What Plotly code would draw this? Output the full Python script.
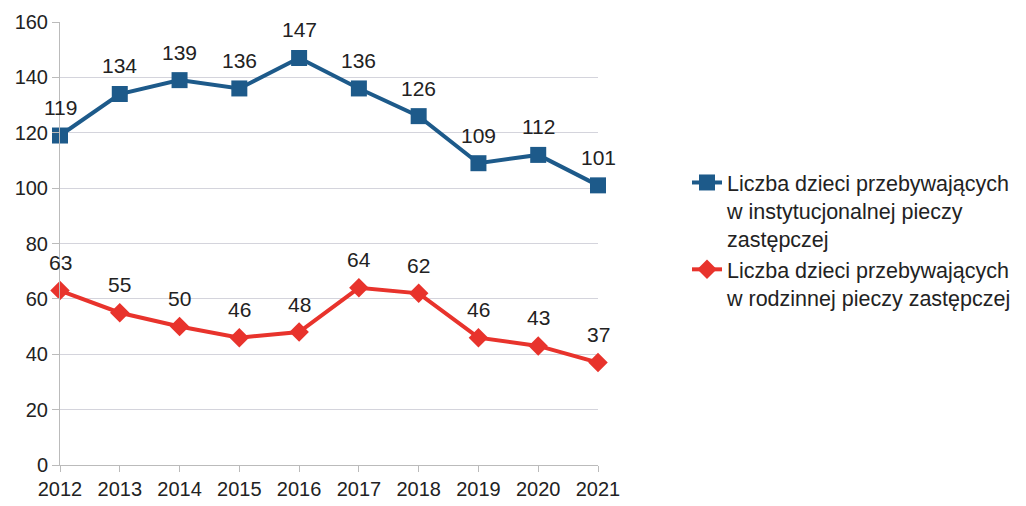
import plotly.graph_objects as go

years = [2012, 2013, 2014, 2015, 2016, 2017, 2018, 2019, 2020, 2021]
instytucjonalna = [119, 134, 139, 136, 147, 136, 126, 109, 112, 101]
rodzinna = [63, 55, 50, 46, 48, 64, 62, 46, 43, 37]
name_inst = "Liczba dzieci przebywających<br>w instytucjonalnej pieczy<br>zastępczej"
name_rodz = "Liczba dzieci przebywających<br>w rodzinnej pieczy zastępczej"

font = "Liberation Sans, Arial, sans-serif"
blue = "#1d5a8a"
red = "#e8332c"

fig = go.Figure()
fig.add_trace(go.Scatter(
    x=years, y=instytucjonalna, name=name_inst, mode="lines+markers",
    line=dict(color=blue, width=4),
    marker=dict(symbol="square", size=16, color=blue),
    cliponaxis=False,
))
fig.add_trace(go.Scatter(
    x=years, y=rodzinna, name=name_rodz, mode="lines+markers",
    line=dict(color=red, width=4),
    marker=dict(symbol="diamond", size=15, color=red),
    cliponaxis=False,
))

for series in (instytucjonalna, rodzinna):
    for x, v in zip(years, series):
        fig.add_annotation(
            x=x, y=v, text=str(v), showarrow=False, yshift=28,
            font=dict(size=21, color="#222", family=font),
        )

# page body has an 8px offset; margins compensate for it
fig.update_layout(
    width=1026, height=506,
    paper_bgcolor="white", plot_bgcolor="white",
    margin=dict(l=52, r=436, t=14, b=49, autoexpand=False),
    font=dict(family=font, size=20, color="#222"),
    showlegend=True,
    legend=dict(
        xref="container", yref="container",
        x=679/1026, y=1 - 154/506, xanchor="left", yanchor="top",
        font=dict(size=21.5, color="#222", family=font),
        valign="top", tracegroupgap=20,
        bgcolor="rgba(0,0,0,0)",
    ),
    xaxis=dict(
        range=[2012, 2021], tickmode="array", tickvals=years,
        ticktext=[str(y) for y in years], automargin=False,
        showgrid=False, showline=True, linecolor="#bbbbbb", linewidth=1,
        ticks="outside", ticklen=6, tickcolor="#bbbbbb",
        tickfont=dict(size=20, color="#222", family=font),
        zeroline=False, mirror=False,
    ),
    yaxis=dict(
        range=[0, 160], dtick=20, showgrid=True, gridcolor="#d4d4dc", gridwidth=1,
        showline=True, linecolor="#bbbbbb", linewidth=1, automargin=False,
        ticks="outside", ticklen=7, tickcolor="#bbbbbb",
        tickfont=dict(size=20, color="#222", family=font),
        zeroline=False,
    ),
)

fig.write_html("out.html")
